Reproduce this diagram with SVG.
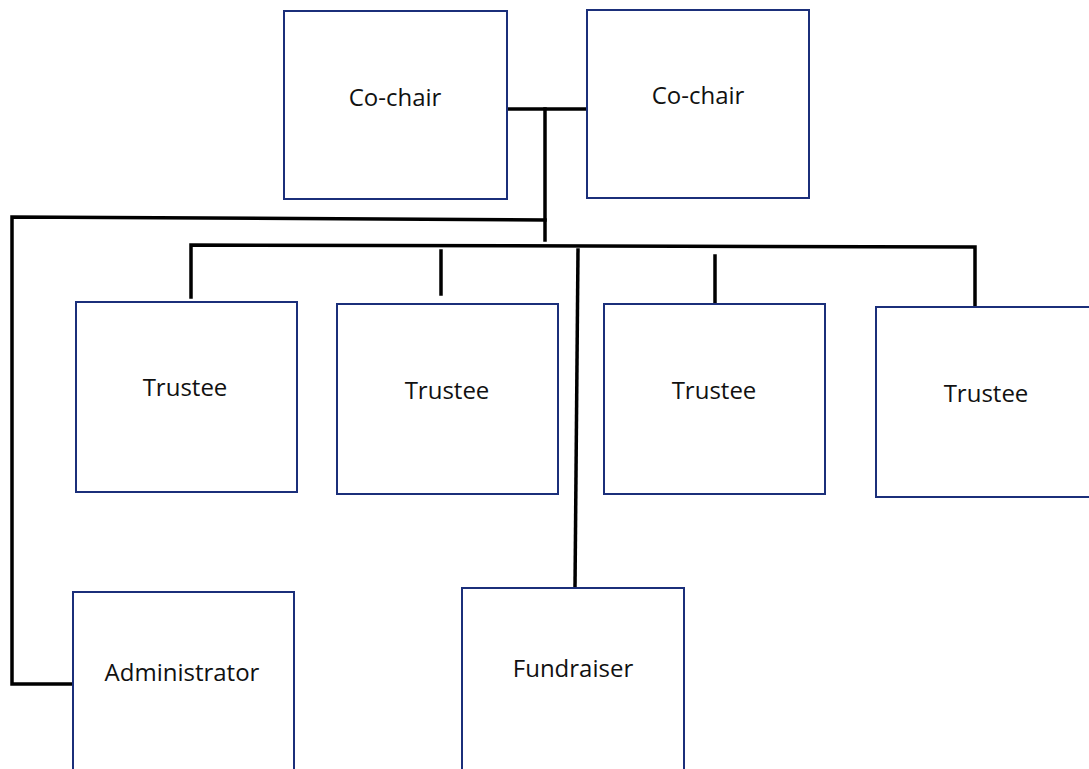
<svg xmlns="http://www.w3.org/2000/svg" width="1089" height="769" viewBox="0 0 1089 769">
<style>
.box{fill:#ffffff;stroke:#1b2f7a;stroke-width:2}
.lbl{font-family:"Open Sans","Liberation Sans",sans-serif;font-size:24px;fill:#111;text-anchor:middle}
.ln{stroke:#000;stroke-width:3.5;fill:none;stroke-linecap:square}
</style>
<rect width="1089" height="769" fill="#ffffff"/>
<g id="connectors">
<path class="ln" d="M507 109 L587 109"/>
<path class="ln" d="M545 109 L545 240"/>
<path class="ln" d="M545 220 L12 217 L12 684 L73 684"/>
<path class="ln" d="M191 297 L191 245 L975 247 L975 306"/>
<path class="ln" d="M441 251 L441 294"/>
<path class="ln" d="M715 256 L715 303"/>
<path class="ln" d="M578 250 L575 587"/>
</g>
<g id="cochair1"><rect class="box" x="284" y="11" width="223" height="188"/><text class="lbl" x="395" y="106">Co-chair</text></g>
<g id="cochair2"><rect class="box" x="587" y="10" width="222" height="188"/><text class="lbl" x="698" y="104">Co-chair</text></g>
<g id="trustee1"><rect class="box" x="76" y="302" width="221" height="190"/><text class="lbl" x="185" y="396">Trustee</text></g>
<g id="trustee2"><rect class="box" x="337" y="304" width="221" height="190"/><text class="lbl" x="447" y="399">Trustee</text></g>
<g id="trustee3"><rect class="box" x="604" y="304" width="221" height="190"/><text class="lbl" x="714" y="399">Trustee</text></g>
<g id="trustee4"><rect class="box" x="876" y="307" width="215" height="190"/><text class="lbl" x="986" y="402">Trustee</text></g>
<g id="administrator"><rect class="box" x="73" y="592" width="221" height="190"/><text class="lbl" x="182" y="681">Administrator</text></g>
<g id="fundraiser"><rect class="box" x="462" y="588" width="222" height="190"/><text class="lbl" x="573" y="677">Fundraiser</text></g>
</svg>
